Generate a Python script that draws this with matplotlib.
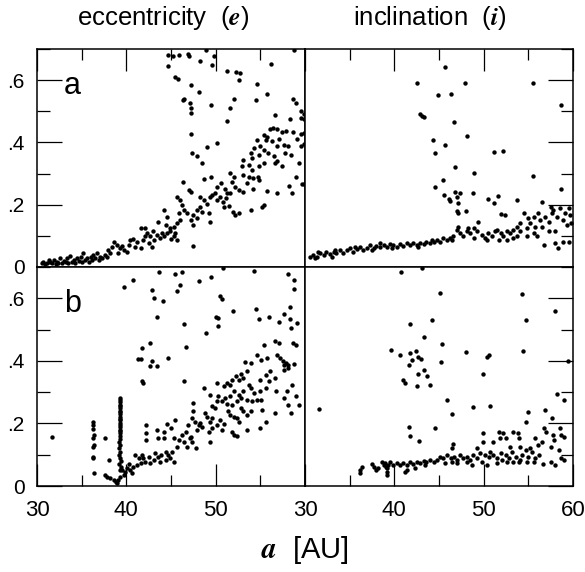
import matplotlib
matplotlib.use("Agg")
import matplotlib.pyplot as plt
import matplotlib.ticker as ticker

plt.rcParams['font.family'] = ['Liberation Sans', 'DejaVu Sans']
plt.rcParams['mathtext.fontset'] = 'cm'

# ── points: (a [AU], value) ──────────────────────────────────────────────────
ecc_a = [
    (44.7, 0.68), (44.7, 0.646), (45.2, 0.678), (45.9, 0.68), (46.9, 0.685), (47.0, 0.676),
    (48.3, 0.66), (48.9, 0.696), (49.6, 0.65), (49.85, 0.678), (45.5, 0.61), (45.8, 0.605),
    (47.2, 0.583), (48.1, 0.562), (46.4, 0.54), (46.3, 0.535), (47.1, 0.526), (47.2, 0.51),
    (47.2, 0.496), (49.5, 0.519), (51.3, 0.628), (52.3, 0.626), (52.7, 0.623), (52.6, 0.6),
    (52.0, 0.54), (51.6, 0.51), (51.3, 0.47), (54.6, 0.587), (54.5, 0.537), (55.7, 0.555),
    (56.2, 0.653), (58.8, 0.696), (58.7, 0.54), (58.96, 0.526), (59.5, 0.5), (59.6, 0.478),
    (56.6, 0.487), (58.3, 0.476), (47.2, 0.428), (49.0, 0.385), (50.2, 0.398), (47.4, 0.365),
    (47.9, 0.357), (48.5, 0.333), (46.3, 0.274), (49.5, 0.29), (48.7, 0.282),
    (59.9, 0.49), (59.9, 0.475), (59.9, 0.43), (59.9, 0.395), (59.9, 0.265),
    (56.1, 0.443), (56.4, 0.446), (56.9, 0.444), (57.4, 0.435), (57.9, 0.438), (58.7, 0.432),
    (59.1, 0.41), (59.5, 0.387), (59.6, 0.428), (55.4, 0.424), (55.8, 0.419), (55.6, 0.408),
    (56.3, 0.403), (57.1, 0.41), (56.9, 0.387), (57.6, 0.392), (58.1, 0.389), (57.8, 0.365),
    (58.4, 0.36), (54.6, 0.408), (55.0, 0.387), (54.3, 0.381), (53.9, 0.365), (54.1, 0.349),
    (54.8, 0.36), (55.4, 0.376), (55.9, 0.365), (56.5, 0.357), (56.9, 0.339), (56.6, 0.333),
    (57.4, 0.323), (59.3, 0.335), (53.1, 0.344), (52.9, 0.323), (53.7, 0.328), (54.1, 0.312),
    (54.9, 0.325), (55.4, 0.333), (53.1, 0.296), (53.7, 0.29), (54.2, 0.285), (54.7, 0.29),
    (53.5, 0.269), (54.2, 0.25), (54.9, 0.28), (55.8, 0.245), (56.9, 0.237), (58.2, 0.26),
    (58.5, 0.237), (59.0, 0.288), (59.7, 0.267), (51.6, 0.301), (52.0, 0.29), (51.8, 0.274),
    (52.2, 0.258), (52.6, 0.248), (51.6, 0.237), (51.2, 0.221), (50.9, 0.194), (51.5, 0.196),
    (51.9, 0.178), (52.2, 0.167), (52.6, 0.172), (53.1, 0.242), (53.9, 0.183), (55.2, 0.194),
    (55.4, 0.2), (50.1, 0.258), (50.6, 0.269), (51.1, 0.25), (49.96, 0.237), (49.6, 0.232),
    (50.5, 0.226), (50.2, 0.215), (50.8, 0.21), (51.3, 0.237), (49.4, 0.226), (48.7, 0.215),
    (49.0, 0.203), (48.3, 0.194), (47.9, 0.183), (48.5, 0.178), (49.2, 0.172), (47.5, 0.167),
    (47.9, 0.156), (47.2, 0.151), (47.5, 0.135), (49.4, 0.143), (48.3, 0.224), (45.7, 0.226),
    (46.0, 0.215), (46.2, 0.199), (46.5, 0.183), (46.8, 0.172), (46.96, 0.248), (47.2, 0.242),
    (45.9, 0.172), (46.0, 0.151), (45.3, 0.13), (45.7, 0.14), (44.9, 0.114), (45.5, 0.108),
    (44.2, 0.183), (44.5, 0.162), (43.6, 0.146), (44.4, 0.135), (44.9, 0.124), (47.5, 0.068),
    (42.1, 0.124), (42.3, 0.108), (42.7, 0.098), (43.1, 0.087), (43.4, 0.103), (43.8, 0.092),
    (44.2, 0.098), (44.5, 0.108), (45.3, 0.098), (45.7, 0.087), (42.5, 0.076), (42.9, 0.065),
    (41.9, 0.087), (41.2, 0.081), (40.8, 0.09), (40.4, 0.087), (40.3, 0.071), (41.6, 0.06),
    (41.0, 0.065), (42.1, 0.098), (41.6, 0.124), (43.0, 0.115), (44.0, 0.11), (45.0, 0.09),
    (38.6, 0.081), (39.0, 0.071), (38.4, 0.065), (39.3, 0.06), (39.7, 0.055), (39.1, 0.044),
    (38.0, 0.055), (38.2, 0.044), (37.6, 0.039), (37.1, 0.033), (40.1, 0.049), (39.5, 0.068),
    (36.3, 0.039), (36.0, 0.033), (35.6, 0.028), (35.2, 0.044), (34.9, 0.033), (34.5, 0.028),
    (34.1, 0.023), (33.7, 0.035), (33.4, 0.028), (33.0, 0.02), (32.6, 0.028), (32.2, 0.017),
    (31.9, 0.023), (31.5, 0.017), (31.1, 0.014), (30.7, 0.017), (30.6, 0.012), (30.9, 0.01),
    (31.3, 0.023), (31.7, 0.012), (32.1, 0.01), (32.4, 0.014), (32.8, 0.012), (33.2, 0.017),
    (33.5, 0.012), (33.9, 0.017), (34.3, 0.012), (34.7, 0.02), (35.0, 0.017), (35.4, 0.023),
    (35.8, 0.017), (36.2, 0.023), (36.5, 0.028), (36.9, 0.023), (37.3, 0.028), (36.7, 0.044),
    (37.8, 0.033),
]

inc_a = [
    (45.7, 0.642), (42.5, 0.59), (47.9, 0.59), (55.5, 0.59), (44.9, 0.553), (46.3, 0.556),
    (58.7, 0.521), (42.9, 0.492), (43.1, 0.486), (43.3, 0.481), (46.7, 0.467), (48.1, 0.421),
    (44.3, 0.408), (45.7, 0.392), (44.6, 0.365), (51.2, 0.368), (52.2, 0.373), (46.8, 0.32),
    (48.9, 0.301), (55.5, 0.293), (45.4, 0.28), (44.6, 0.258), (58.7, 0.251),
    (45.6, 0.232), (46.1, 0.218), (46.2, 0.213), (46.8, 0.242), (47.3, 0.237), (47.0, 0.226),
    (47.1, 0.205), (47.0, 0.181), (48.0, 0.181), (47.1, 0.175), (48.8, 0.239), (50.5, 0.218),
    (51.2, 0.205), (51.6, 0.229), (53.7, 0.215), (51.9, 0.17), (52.4, 0.167),
    (56.5, 0.208), (57.5, 0.194), (57.8, 0.183), (58.6, 0.189), (59.5, 0.189), (59.1, 0.173),
    (59.7, 0.167), (58.2, 0.162), (58.9, 0.151), (59.3, 0.135), (59.8, 0.14), (58.0, 0.114),
    (58.9, 0.081), (59.5, 0.081), (58.3, 0.06), (58.0, 0.076), (56.7, 0.071),
    (54.5, 0.173), (55.0, 0.156), (55.6, 0.162), (56.1, 0.173), (56.3, 0.151), (56.9, 0.162),
    (57.3, 0.146), (57.6, 0.173), (55.2, 0.14), (55.8, 0.13), (54.8, 0.124), (54.1, 0.14),
    (53.7, 0.13), (53.3, 0.119), (52.96, 0.108), (52.6, 0.114), (52.2, 0.098), (51.9, 0.108),
    (51.7, 0.087), (51.3, 0.114), (50.9, 0.098), (50.5, 0.108), (50.2, 0.092), (49.8, 0.103),
    (49.4, 0.146), (48.9, 0.124), (48.5, 0.108), (48.1, 0.114), (47.7, 0.098), (47.3, 0.108),
    (47.1, 0.13), (46.96, 0.119), (46.6, 0.098), (46.2, 0.092), (45.9, 0.087), (45.5, 0.092),
    (45.1, 0.081), (44.8, 0.087), (44.4, 0.081), (44.0, 0.076), (43.6, 0.081), (43.3, 0.074),
    (42.9, 0.078), (42.5, 0.071), (42.1, 0.076), (41.8, 0.071), (41.4, 0.076), (41.0, 0.068),
    (40.6, 0.074), (40.3, 0.065), (39.9, 0.071), (39.5, 0.074), (39.2, 0.065), (38.8, 0.071),
    (38.4, 0.063), (38.0, 0.068), (37.7, 0.06), (37.3, 0.071), (36.9, 0.06), (36.5, 0.055),
    (36.2, 0.065), (35.8, 0.057), (35.4, 0.049), (35.0, 0.06), (34.7, 0.053), (34.3, 0.046),
    (33.9, 0.055), (33.5, 0.044), (33.2, 0.049), (32.8, 0.042), (32.4, 0.049), (32.1, 0.039),
    (31.7, 0.044), (31.3, 0.033), (30.9, 0.039), (30.6, 0.033), (31.1, 0.028),
    (42.7, 0.065), (44.2, 0.087), (46.4, 0.087), (48.9, 0.092), (50.4, 0.087), (52.6, 0.087),
    (53.7, 0.098), (54.1, 0.114), (55.6, 0.108), (56.0, 0.098), (57.3, 0.114), (56.5, 0.13),
    (54.9, 0.098), (53.3, 0.092), (51.5, 0.119), (49.2, 0.114), (48.3, 0.124), (38.4, 0.076),
    (39.7, 0.06), (37.5, 0.055), (35.6, 0.065), (33.4, 0.055), (33.0, 0.033), (31.5, 0.049),
]

ecc_b = [
    (31.7, 0.156), (39.7, 0.636), (40.7, 0.658), (43.7, 0.684), (45.4, 0.679), (46.2, 0.684),
    (50.8, 0.696), (54.3, 0.688), (48.1, 0.656), (49.5, 0.668), (58.1, 0.679), (58.8, 0.658),
    (58.8, 0.631), (42.9, 0.626), (43.1, 0.602), (44.1, 0.591), (45.7, 0.624), (46.0, 0.643),
    (50.5, 0.607), (50.7, 0.597), (43.4, 0.54), (46.5, 0.519), (50.0, 0.54), (50.3, 0.538),
    (50.3, 0.511), (51.9, 0.559), (48.9, 0.49), (54.5, 0.565), (54.8, 0.535), (56.0, 0.54),
    (57.1, 0.524), (57.7, 0.551), (58.3, 0.572), (58.3, 0.533), (58.4, 0.506), (59.1, 0.52),
    (41.8, 0.44), (42.7, 0.456), (46.7, 0.444), (41.3, 0.407), (41.6, 0.406), (42.6, 0.383),
    (42.9, 0.401), (43.4, 0.383), (44.7, 0.41), (41.7, 0.337), (41.9, 0.329), (46.5, 0.337),
    (55.4, 0.452), (56.6, 0.463), (57.1, 0.458), (58.7, 0.458), (59.0, 0.452),
    (56.9, 0.42), (57.2, 0.41), (57.5, 0.399), (57.7, 0.388), (58.1, 0.378), (57.9, 0.394),
    (58.1, 0.388), (58.8, 0.39), (57.7, 0.372), (54.6, 0.42), (55.1, 0.404), (55.7, 0.41),
    (56.1, 0.367), (55.6, 0.356), (55.0, 0.34), (56.6, 0.345), (56.0, 0.337), (53.3, 0.396),
    (53.9, 0.394), (53.5, 0.367), (52.8, 0.358), (52.3, 0.351), (51.8, 0.34), (52.6, 0.34),
    (53.1, 0.345), (53.7, 0.324), (53.9, 0.313), (53.1, 0.305), (52.6, 0.292), (52.0, 0.303),
    (51.6, 0.324), (51.3, 0.329), (50.9, 0.319), (50.1, 0.329), (51.1, 0.281), (50.7, 0.271),
    (51.3, 0.262), (51.6, 0.287), (50.3, 0.287), (50.1, 0.271), (49.4, 0.292), (49.6, 0.255),
    (49.96, 0.249), (48.7, 0.313), (51.8, 0.26), (52.4, 0.271), (52.8, 0.281), (53.5, 0.276),
    (54.1, 0.271), (54.6, 0.276), (55.1, 0.276), (54.3, 0.297), (55.0, 0.305), (55.6, 0.313),
    (56.7, 0.303), (57.7, 0.281), (58.0, 0.303), (58.6, 0.324), (59.0, 0.287), (59.3, 0.26),
    (58.1, 0.26), (58.4, 0.233),
    (56.6, 0.233), (55.2, 0.244), (55.6, 0.206), (55.0, 0.185), (53.5, 0.228), (53.1, 0.239),
    (52.8, 0.249), (53.9, 0.239), (52.4, 0.217), (52.0, 0.222), (51.6, 0.228), (51.4, 0.239),
    (52.6, 0.206), (53.5, 0.18), (51.8, 0.174), (52.1, 0.164), (52.4, 0.161), (50.7, 0.18),
    (50.9, 0.198), (50.5, 0.212), (50.1, 0.196), (49.6, 0.217), (49.0, 0.222), (48.8, 0.233),
    (49.4, 0.206), (49.6, 0.185), (49.2, 0.174), (47.5, 0.265), (47.5, 0.239), (47.4, 0.217),
    (47.7, 0.206), (48.1, 0.196), (48.5, 0.187), (47.9, 0.18), (48.3, 0.201), (46.9, 0.196),
    (46.7, 0.174), (47.1, 0.153), (47.3, 0.142), (47.8, 0.121), (49.4, 0.142),
    (45.5, 0.212), (44.6, 0.198), (45.0, 0.185), (44.2, 0.174), (43.4, 0.18), (43.6, 0.153),
    (44.2, 0.153), (42.2, 0.196), (42.2, 0.169), (42.2, 0.148), (45.3, 0.153), (45.9, 0.148),
    (45.7, 0.126), (46.2, 0.164), (46.4, 0.142), (46.8, 0.126), (47.2, 0.158),
    (41.0, 0.099), (41.4, 0.089), (41.8, 0.099), (41.9, 0.089), (42.1, 0.078), (42.5, 0.094),
    (42.7, 0.073), (43.1, 0.083), (43.2, 0.105), (43.6, 0.094), (43.8, 0.078), (43.9, 0.099),
    (44.4, 0.11), (44.4, 0.083), (44.7, 0.099), (44.9, 0.089), (45.1, 0.11), (45.3, 0.078),
    (41.2, 0.067), (41.6, 0.073), (40.8, 0.062), (40.4, 0.051), (40.6, 0.041), (40.3, 0.07),
    (40.1, 0.057), (39.9, 0.046), (39.7, 0.035), (39.5, 0.051), (39.3, 0.03), (39.1, 0.019),
    (38.96, 0.009), (38.8, 0.014), (38.6, 0.019), (38.2, 0.025), (37.8, 0.03), (37.6, 0.035),
    (38.1, 0.083), (37.6, 0.153),
    # resonance column near 39.4 AU
    (39.3, 0.28), (39.3, 0.27), (39.3, 0.26), (39.3, 0.25), (39.3, 0.24), (39.3, 0.23),
    (39.3, 0.22), (39.3, 0.21), (39.3, 0.20), (39.3, 0.19), (39.3, 0.18), (39.3, 0.17),
    (39.3, 0.16), (39.3, 0.15), (39.2, 0.14), (39.3, 0.13), (39.2, 0.12), (39.3, 0.11),
    (39.2, 0.10), (39.3, 0.09), (39.4, 0.08), (39.2, 0.07), (39.4, 0.06), (39.3, 0.05),
    (39.3, 0.275), (39.3, 0.255), (39.3, 0.235), (39.3, 0.215), (39.3, 0.195), (39.3, 0.175),
    # column near 36.3 AU
    (36.3, 0.206), (36.3, 0.196), (36.3, 0.183), (36.4, 0.164), (36.3, 0.153), (36.4, 0.132),
    (36.3, 0.126), (36.3, 0.094), (36.3, 0.089), (36.4, 0.041),
]

inc_b = [
    (31.6, 0.247), (40.8, 0.684), (43.1, 0.698), (45.1, 0.618), (54.3, 0.615), (58.0, 0.559),
    (54.7, 0.529), (44.2, 0.529), (41.8, 0.517), (43.3, 0.476), (45.3, 0.455),
    (39.6, 0.434), (40.6, 0.418), (41.7, 0.426), (42.4, 0.431), (42.7, 0.412), (42.96, 0.406),
    (42.0, 0.404), (41.6, 0.388), (45.2, 0.397), (48.0, 0.429), (50.4, 0.413), (50.6, 0.42),
    (54.4, 0.433), (59.4, 0.399), (43.3, 0.372), (42.6, 0.358), (43.7, 0.351), (41.0, 0.34),
    (41.2, 0.329), (42.5, 0.319), (44.0, 0.324), (49.9, 0.359),
    (45.9, 0.274), (46.4, 0.231), (48.8, 0.252), (50.7, 0.257), (55.0, 0.236), (54.7, 0.204),
    (56.9, 0.242), (58.2, 0.295), (58.95, 0.274), (57.6, 0.217),
    (41.6, 0.19), (41.8, 0.16), (42.8, 0.145), (44.6, 0.185),
    (46.6, 0.135), (46.4, 0.123), (49.9, 0.169), (49.9, 0.142), (51.0, 0.142), (51.7, 0.174),
    (52.2, 0.169), (52.5, 0.153), (53.3, 0.172), (53.8, 0.169), (53.9, 0.153), (51.8, 0.153),
    (52.9, 0.126), (54.1, 0.126), (55.2, 0.121), (55.8, 0.153), (56.1, 0.132), (56.5, 0.142),
    (56.7, 0.185), (57.0, 0.174), (57.8, 0.164), (58.5, 0.185), (58.7, 0.164), (59.0, 0.158),
    (57.9, 0.148), (57.5, 0.126), (58.4, 0.116), (58.7, 0.089), (58.0, 0.067), (57.5, 0.078),
    (56.6, 0.07), (59.0, 0.083),
    (49.2, 0.121), (49.6, 0.105), (50.2, 0.099), (50.6, 0.094), (50.7, 0.11), (51.1, 0.099),
    (51.5, 0.089), (51.9, 0.105), (52.0, 0.083), (52.5, 0.099), (52.8, 0.089), (53.2, 0.11),
    (53.6, 0.094), (54.0, 0.078), (54.3, 0.099), (54.7, 0.116), (55.0, 0.094), (55.4, 0.11),
    (55.8, 0.089), (56.2, 0.099), (50.4, 0.067), (51.5, 0.073), (52.6, 0.078), (53.3, 0.078),
    (54.1, 0.083), (54.8, 0.078), (55.6, 0.078),
    (45.9, 0.099), (46.3, 0.089), (46.7, 0.094), (47.0, 0.083), (47.4, 0.099), (47.7, 0.089),
    (48.1, 0.094), (48.5, 0.083), (48.8, 0.099), (47.0, 0.073), (48.1, 0.078), (49.2, 0.089),
    (45.5, 0.089), (45.1, 0.094), (44.8, 0.083), (44.4, 0.078), (44.0, 0.083), (43.6, 0.076),
    (43.3, 0.08), (42.9, 0.073), (42.5, 0.078), (42.1, 0.07), (41.8, 0.076), (41.4, 0.067),
    (41.0, 0.073), (40.6, 0.067), (40.3, 0.073), (39.9, 0.067), (39.5, 0.076), (39.3, 0.067),
    (39.2, 0.057), (39.2, 0.046), (39.2, 0.035), (39.1, 0.062), (39.0, 0.073), (38.8, 0.067),
    (38.6, 0.078), (38.2, 0.057), (37.96, 0.051), (37.7, 0.062), (37.5, 0.07), (36.4, 0.062),
    (36.2, 0.051), (36.2, 0.041), (41.4, 0.051), (41.2, 0.046), (42.3, 0.057), (43.4, 0.067),
    (45.7, 0.073), (46.4, 0.078), (48.7, 0.067), (49.8, 0.078),
]

panel_labels = ["a", "b"]
titles = [r"eccentricity  ($\boldsymbol{e}$)", r"inclination  ($\boldsymbol{i}$)"]
x_ticks = [30, 40, 50, 60]
y_ticks = [0, 0.2, 0.4, 0.6]

# ── layout: four panels glued together ───────────────────────────────────────
fig = plt.figure(figsize=(5.85, 5.72), dpi=100)
L, R = 37 / 585, 573 / 585
T, M, B = 1 - 49 / 572, 1 - 267 / 572, 1 - 486 / 572
W = (R - L) / 2
axes = {
    "ea": fig.add_axes([L, M, W, T - M]),
    "ia": fig.add_axes([L + W, M, W, T - M]),
    "eb": fig.add_axes([L, B, W, M - B]),
    "ib": fig.add_axes([L + W, B, W, M - B]),
}
data = {"ea": ecc_a, "ia": inc_a, "eb": ecc_b, "ib": inc_b}


def yfmt(v, _):
    return "0" if abs(v) < 1e-9 else f"{v:.1f}".lstrip("0")


for key, ax in axes.items():
    pts = data[key]
    ax.scatter([p[0] for p in pts], [p[1] for p in pts], s=10, c="black",
               linewidths=0, zorder=3)
    ax.set_xlim(30, 60)
    ax.set_ylim(0, 0.7)
    ax.set_xticks(x_ticks)
    ax.set_yticks(y_ticks)
    ax.xaxis.set_minor_locator(ticker.MultipleLocator(5))
    ax.yaxis.set_minor_locator(ticker.MultipleLocator(0.1))
    for sp in ax.spines.values():
        sp.set_linewidth(1.1)

    top = key.endswith("a")
    left = key.startswith("e")
    ax.tick_params(axis="x", which="both", direction="in", width=0.9,
                   top=top, bottom=not top, labelbottom=not top, labeltop=False,
                   labelsize=16, pad=10)
    ax.tick_params(axis="y", which="both", direction="in", width=0.9,
                   left=left, right=not left, labelleft=left, labelright=False,
                   labelsize=15, pad=9)
    ax.tick_params(axis="x", which="major", length=16)
    ax.tick_params(axis="x", which="minor", length=8)
    ax.tick_params(axis="y", which="major", length=18)
    ax.tick_params(axis="y", which="minor", length=9)
    ax.yaxis.set_major_formatter(ticker.FuncFormatter(yfmt))
    if left:
        ax.xaxis.set_major_formatter(ticker.FuncFormatter(
            lambda v, _: "" if v >= 60 else f"{int(v)}"))

axes["ea"].text(0.1, 0.83, panel_labels[0], transform=axes["ea"].transAxes,
                fontsize=22, va="center", ha="left")
axes["eb"].text(0.1, 0.83, panel_labels[1], transform=axes["eb"].transAxes,
                fontsize=22, va="center", ha="left")

fig.text(163 / 585, 1 - 18 / 572, titles[0], fontsize=18.5, ha="center", va="center")
fig.text(430 / 585, 1 - 18 / 572, titles[1], fontsize=18.5, ha="center", va="center")
fig.text(305 / 585, 1 - 550 / 572, r"$\boldsymbol{a}$  [AU]", fontsize=21,
         ha="center", va="center")

fig.savefig("out.png", dpi=100)
